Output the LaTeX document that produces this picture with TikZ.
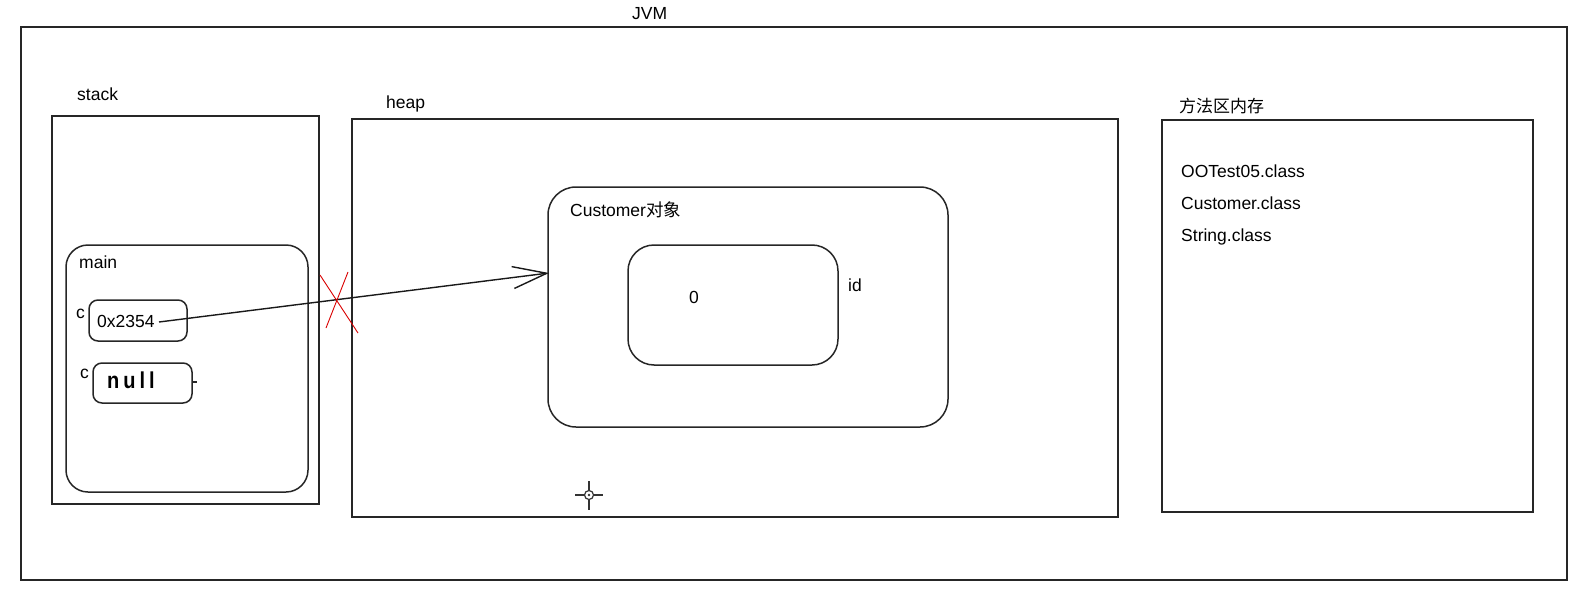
\documentclass[tikz,border=0pt]{standalone}
\usepackage{fontspec}
\setmainfont{Liberation Sans}
\newfontfamily\cjk{Noto Sans CJK SC}
\usetikzlibrary{arrows.meta}
\begin{document}
\begin{tikzpicture}[x=1pt,y=-1pt,
  box/.style={draw=black!85,line width=1.5pt,rectangle,inner sep=0pt,outer sep=0pt},
  rbox/.style={box,rounded corners=#1},
  lbl/.style={anchor=base west,inner sep=0pt,font=\fontsize{17.5}{20}\selectfont},
  clbl/.style={anchor=base west,inner sep=0pt,font=\fontsize{17}{20}\selectfont\cjk}]
\useasboundingbox (0,0) rectangle (1586,594);
% outer
\node[box,minimum width=1546pt,minimum height=553pt] (jvm) at (794,303.5) {};
\node[lbl] (jvmt) at (632,20) {JVM};
% stack
\node[box,minimum width=267pt,minimum height=388pt] (stack) at (185.5,310) {};
\node[lbl] (stackt) at (77,100) {stack};
\node[rbox=22pt,minimum width=242pt,minimum height=247pt] (main) at (187,368.5) {};
\node[lbl] (maint) at (79,268) {main};
\node[lbl] (c1) at (76,318) {c};
\node[rbox=9pt,minimum width=98pt,minimum height=41pt] (box1) at (138,320.5) {};
\node[lbl] (v1) at (97,327) {0x2354};
\node[lbl] (c2) at (80,378) {c};
\node[rbox=9pt,minimum width=99pt,minimum height=40pt] (box2) at (142.5,383) {};
\node[anchor=base west,inner sep=0pt,font=\fontsize{20}{22}\selectfont\bfseries] (v2) at (107,388) {\scalebox{1}[1.15]{n\kern4pt u\kern4pt l\kern4pt l}};
\coordinate (tickend) at (197,382);
\draw[black!85,line width=1.3pt] (box2.east |- tickend) -- (tickend);
% heap
\node[box,minimum width=766pt,minimum height=398pt] (heap) at (735,318) {};
\node[lbl] (heapt) at (386,108) {heap};
\node[rbox=28pt,minimum width=400pt,minimum height=240pt] (cust) at (748,307) {};
\node[lbl] (custt) at (570,216) {Customer{\cjk 对象}};
\node[rbox=26pt,minimum width=210pt,minimum height=120pt] (inner) at (733,305) {};
\node[lbl] (zero) at (689,303) {0};
\node[lbl] (idt) at (848,291) {id};
% pointer arrow
\coordinate (ptr) at (159,322);
\coordinate (tip) at (549,273);
\draw[black!90,line width=1.4pt,-{Straight Barb[length=34pt,width=22pt,line width=1.4pt]}] (ptr) -- (tip);
% red cross
\coordinate (x1a) at (320,275); \coordinate (x1b) at (358,333);
\coordinate (x2a) at (348,272); \coordinate (x2b) at (326,328);
\draw[red!85!black,line width=0.9pt] (x1a) -- (x1b) (x2a) -- (x2b);
% cursor
\coordinate (cur) at (589,495);
\draw[black!80,line width=1.6pt] (589,481) -- (589,490) (589,500) -- (589,510) (575,495) -- (584,495) (594,495) -- (603,495);
\draw[black!80,line width=1.2pt] (cur) circle (4.5pt);
\fill[black!80] (cur) circle (1.3pt);
% method area
\node[box,minimum width=371pt,minimum height=392pt] (meth) at (1347.5,316) {};
\node[clbl] (metht) at (1179,112) {方法区内存};
\node[lbl] (m1) at (1181,177) {OOTest05.class};
\node[lbl] (m2) at (1181,209) {Customer.class};
\node[lbl] (m3) at (1181,241) {String.class};
\end{tikzpicture}
\end{document}
